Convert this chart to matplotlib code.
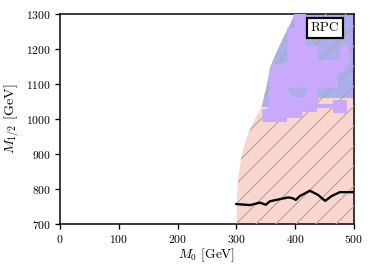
import matplotlib
matplotlib.use("Agg")
import matplotlib.pyplot as plt

plt.rcParams['font.family'] = ['cmr10', 'DejaVu Serif']
plt.rcParams['mathtext.fontset'] = 'cm'
plt.rcParams['axes.formatter.use_mathtext'] = True
plt.rcParams['hatch.linewidth'] = 0.7

# Region boundary (left edge of the excluded/allowed area)
edge_m0 = [300, 301, 303, 309, 316, 323, 333, 343, 351, 358, 368, 379, 390, 399]
edge_m12 = [700, 780, 830, 897, 940, 970, 1005, 1035, 1090, 1150, 1190, 1229, 1266, 1300]

# Purple region outline
purple_m0 = [398, 417, 417, 439, 439, 476, 476, 493, 493, 485, 485, 473, 473, 439, 439,
             464, 464, 488, 488, 464, 464, 437, 437, 412, 412, 386, 386, 344, 344, 354,
             357, 361, 386, 386, 398]
purple_m12 = [1300, 1300, 1211, 1211, 1169, 1169, 1211, 1211, 1154, 1154, 1134, 1134, 1089,
              1089, 1043, 1043, 1054, 1054, 1017, 1017, 1031, 1031, 1020, 1020, 1003, 1003,
              991, 991, 1026, 1031, 1131, 1154, 1163, 1260, 1260]

# Blue notch inside purple
notch_m0 = [391, 418, 422, 412, 398, 388]
notch_m12 = [1089, 1089, 1080, 1063, 1063, 1080]

# Black limit line
line_m0 = [300, 323, 340, 350, 357, 374, 388, 395, 401, 408, 425, 439, 451, 462, 476, 500]
line_m12 = [757, 754, 761, 755, 765, 771, 776, 774, 769, 780, 795, 783, 766, 780, 791, 791]

xticks = [0, 100, 200, 300, 400, 500]
yticks = [700, 800, 900, 1000, 1100, 1200, 1300]

pink = '#fbd6cf'
blue = '#aaaeea'
purple = '#c8a9fc'
hatch_col = '#a8a8a8'

fig = plt.figure(figsize=(373 / 120, 270 / 120), dpi=120)
ax = fig.add_axes([60 / 373, 46 / 270, 294 / 373, 210 / 270])

# full region
reg_x = edge_m0 + [500, 500]
reg_y = edge_m12 + [1300, 700]
ax.fill(reg_x, reg_y, facecolor=pink, edgecolor='none', lw=0, zorder=1)

# blue region
i0 = edge_m12.index(1035)
blue_x = edge_m0[i0:] + [500, 500, 439, 439]
blue_y = edge_m12[i0:] + [1300, 1060, 1060, 1035]
ax.fill(blue_x, blue_y, facecolor=blue, edgecolor='none', lw=0, zorder=2)

# hatch overlay
ax.fill(reg_x, reg_y, facecolor='none', edgecolor=hatch_col, hatch='//', lw=0, zorder=3)

# purple
ax.fill(purple_m0, purple_m12, facecolor=purple, edgecolor='none', lw=0, zorder=4)
ax.fill(notch_m0, notch_m12, facecolor=blue, edgecolor='none', lw=0, zorder=5)

ax.plot(line_m0, line_m12, color='black', lw=1.4, zorder=6)

ax.set_xlim(0, 500)
ax.set_ylim(700, 1300)
ax.set_xticks(xticks)
ax.set_yticks(yticks)
ax.tick_params(labelsize=7, length=3, width=0.8, direction='out', pad=2.5)
for s in ax.spines.values():
    s.set_linewidth(0.9)

ax.set_xlabel(r'$M_0$ [GeV]', fontsize=8, labelpad=1)
ax.set_ylabel(r'$M_{1/2}$ [GeV]', fontsize=8.5, labelpad=2)

ax.text(0.901, 0.933, 'RPC', transform=ax.transAxes, fontsize=8, ha='center', va='center',
        zorder=10,
        bbox=dict(boxstyle='square,pad=0.3', facecolor='white', edgecolor='black', lw=1.3))

fig.savefig('out.png', dpi=120)
